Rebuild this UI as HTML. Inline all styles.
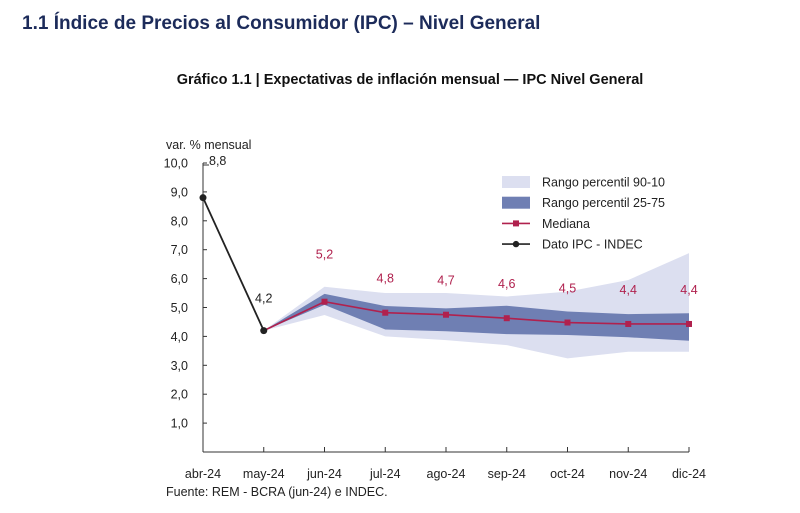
<!DOCTYPE html>
<html><head><meta charset="utf-8"><style>
body{margin:0;background:#fff;width:800px;height:508px;overflow:hidden;font-family:"Liberation Sans",sans-serif}
</style></head><body>
<svg width="800" height="508" font-family="Liberation Sans, sans-serif">
<text x="22" y="29" font-size="19" font-weight="bold" fill="#1c2b5a">1.1 Índice de Precios al Consumidor (IPC) – Nivel General</text>
<text x="410" y="84" font-size="14.5" font-weight="bold" fill="#111" text-anchor="middle">Gráfico 1.1 | Expectativas de inflación mensual — IPC Nivel General</text>
<text x="166" y="149" font-size="12.5" fill="#222">var. % mensual</text>
<g id="plot"></g>
<text x="166" y="496" font-size="12.5" fill="#222">Fuente: REM - BCRA (jun-24) e INDEC.</text>
</svg>
<script>
const categories=["abr-24","may-24","jun-24","jul-24","ago-24","sep-24","oct-24","nov-24","dic-24"];
const ipc=[8.8,4.2];
const median=[4.2,5.2,4.82,4.75,4.63,4.48,4.43,4.43];
const medianLabels=["5,2","4,8","4,7","4,6","4,5","4,4","4,4"];
const p90=[4.2,5.72,5.5,5.5,5.38,5.55,5.95,6.88];
const p10=[4.2,4.74,4.0,3.87,3.7,3.24,3.47,3.47];
const p75=[4.2,5.47,5.05,4.97,5.06,4.86,4.77,4.8];
const p25=[4.2,5.09,4.24,4.18,4.08,4.05,3.97,3.85];
const yTicks=[1,2,3,4,5,6,7,8,9,10];
const NS="http://www.w3.org/2000/svg";
const g=document.getElementById('plot');
const x0=203,dx=60.75,yBase=452,yk=28.9;
const X=i=>x0+i*dx, Y=v=>yBase-v*yk;
function mk(t,a,txt){const e=document.createElementNS(NS,t);for(const k in a)e.setAttribute(k,a[k]);if(txt!=null)e.textContent=txt;g.appendChild(e);return e;}
function band(up,lo,fill,name){let pts=[];up.forEach((v,i)=>pts.push(X(i+1)+','+Y(v)));for(let i=lo.length-1;i>=0;i--)pts.push(X(i+1)+','+Y(lo[i]));
const e=mk('polygon',{points:pts.join(' '),fill:fill});

}
band(p90,p10,'#dcdff0','band-p90-10');
band(p75,p25,'#6f7fb3','band-p25-75');
// axes
let ax=mk('line',{x1:X(0),y1:Y(0),x2:X(8),y2:Y(0),stroke:'#333','stroke-width':1});


let ay=mk('line',{x1:X(0),y1:Y(0),x2:X(0),y2:Y(10),stroke:'#333','stroke-width':1});


yTicks.forEach(v=>{mk('line',{x1:X(0),y1:Y(v),x2:X(0)+4,y2:Y(v),stroke:'#333'});
const t=mk('text',{x:188,y:Y(v)+4.5,'font-size':12.5,fill:'#222','text-anchor':'end'},v.toFixed(1).replace('.',','));

});
categories.forEach((c,i)=>{mk('line',{x1:X(i),y1:Y(0),x2:X(i),y2:Y(0)-5,stroke:'#333'});
const t=mk('text',{x:X(i),y:478,'font-size':12.5,fill:'#222','text-anchor':'middle'},c);

});
// median
const ml=mk('polyline',{points:median.map((v,i)=>X(i+1)+','+Y(v)).join(' '),fill:'none',stroke:'#b0214e','stroke-width':1.6});


median.forEach((v,i)=>{if(i==0)return;const r=mk('rect',{x:X(i+1)-3,y:Y(v)-3,width:6,height:6,fill:'#b0214e'});


const t=mk('text',{x:X(i+1),y:Y(v)-(i==1?43:30),'font-size':12.5,fill:'#b0214e','text-anchor':'middle'},medianLabels[i-1]);

});
// ipc
const il=mk('polyline',{points:ipc.map((v,i)=>X(i)+','+Y(v)).join(' '),fill:'none',stroke:'#222','stroke-width':1.8});


ipc.forEach((v,i)=>{const c=mk('circle',{cx:X(i),cy:Y(v),r:3.5,fill:'#222'});

});
mk('line',{x1:X(0),y1:Y(10)+2,x2:X(0)+6,y2:Y(10)+2,stroke:'#333'});
const l1=mk('text',{x:X(0)+6,y:Y(10)+2,'font-size':12.5,fill:'#222'},'8,8');


const l2=mk('text',{x:X(1),y:Y(ipc[1])-28,'font-size':12.5,fill:'#222','text-anchor':'middle'},'4,2');


// legend
const lg=[['Rango percentil 90-10','band','#dcdff0'],['Rango percentil 25-75','band','#6f7fb3'],['Mediana','line','#b0214e'],['Dato IPC - INDEC','line','#222']];
lg.forEach((d,i)=>{const y=182+i*20.7;
if(d[1]=='band')mk('rect',{x:502,y:y-6,width:28,height:12,fill:d[2]});
else{mk('line',{x1:502,y1:y,x2:530,y2:y,stroke:d[2],'stroke-width':1.6});
if(i==2)mk('rect',{x:513,y:y-3,width:6,height:6,fill:d[2]});else mk('circle',{cx:516,cy:y,r:3.2,fill:d[2]});}
const t=mk('text',{x:542,y:y+4.5,'font-size':12.5,fill:'#222'},d[0]);

});
</script>
</body></html>
